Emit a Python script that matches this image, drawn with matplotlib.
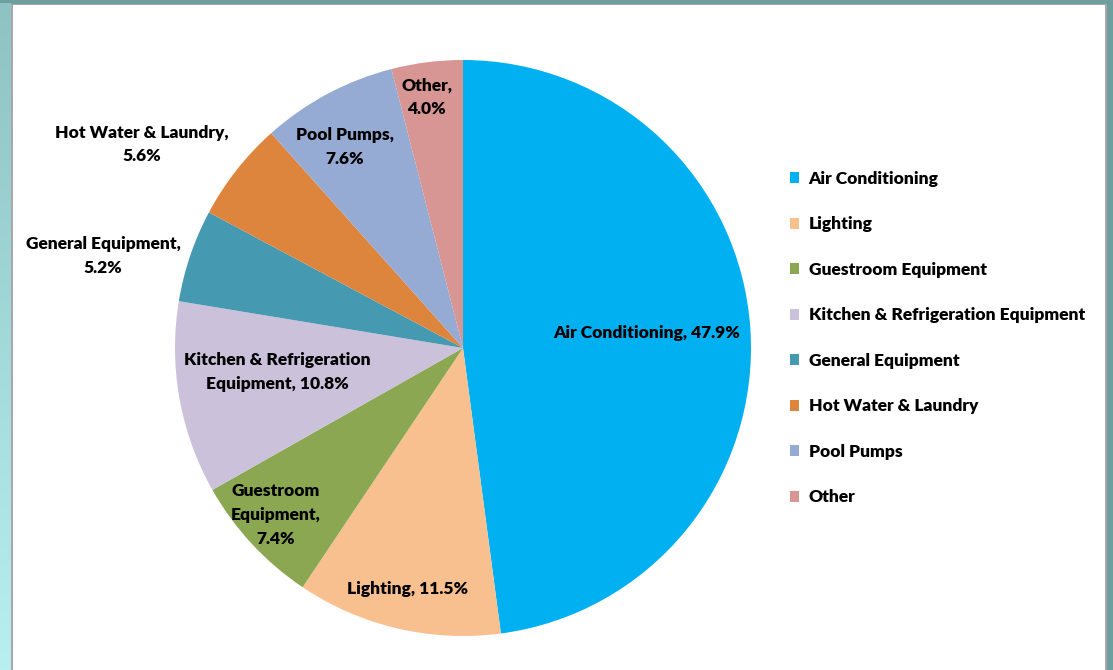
import numpy as np
import matplotlib
matplotlib.use("Agg")
import matplotlib.pyplot as plt
from matplotlib.patches import Rectangle, Patch
from matplotlib.colors import LinearSegmentedColormap

categories = ["Air Conditioning", "Lighting", "Guestroom Equipment",
              "Kitchen & Refrigeration Equipment", "General Equipment",
              "Hot Water & Laundry", "Pool Pumps", "Other"]
values = [47.9, 11.5, 7.4, 10.8, 5.2, 5.6, 7.6, 4.0]
label_texts = ["Air Conditioning, 47.9%", "Lighting, 11.5%",
               "Guestroom\nEquipment,\n7.4%",
               "Kitchen & Refrigeration\nEquipment, 10.8%",
               "General Equipment,\n5.2%", "Hot Water & Laundry,\n5.6%",
               "Pool Pumps,\n7.6%", "Other,\n4.0%"]
colors = ["#00B0F0", "#F9C08F", "#8BA751", "#CCC1DA", "#4599B0",
          "#DE853D", "#95ABD3", "#D79594"]

# label placement style: radial factor and angular nudge (deg)
label_r = [0.64, 0.86, 0.87, 0.65, 1.29, 1.32, 0.81, 0.88]
label_da = [0.9, 0.1, -1.1, -2.7, 4.4, 5.8, 2.3, 1.0]

W, H = 1113, 670
fig = plt.figure(figsize=(W / 100, H / 100), dpi=100)
fig.patch.set_facecolor("#6F9E9E")

# white panel
fig.add_artist(Rectangle((12 / W, 0), (W - 12 - 6) / W, (H - 4) / H,
                         transform=fig.transFigure, facecolor="white",
                         edgecolor="none", zorder=0))
# gray inner lines
fig.add_artist(Rectangle((11 / W, 0), 2 / W, (H - 4) / H, transform=fig.transFigure,
                         facecolor="#A8A8A8", edgecolor="none", zorder=1))
fig.add_artist(Rectangle((11 / W, (H - 5) / H), (W - 17) / W, 1.5 / H,
                         transform=fig.transFigure, facecolor="#A8A8A8",
                         edgecolor="none", zorder=1))
fig.add_artist(Rectangle(((W - 8) / W, 0), 2 / W, (H - 4) / H,
                         transform=fig.transFigure, facecolor="#A8A8A8",
                         edgecolor="none", zorder=1))

# left gradient strip
gax = fig.add_axes([0, 0, 11 / W, (H - 3) / H])
cmap = LinearSegmentedColormap.from_list("strip", ["#B9EFF1", "#8EC2C3"])
gax.imshow(np.linspace(0, 1, 256).reshape(-1, 1), aspect="auto", cmap=cmap,
           origin="lower")
gax.axis("off")

ax = fig.add_axes([0, 0, 1, 1])
ax.set_facecolor("none")
cx, cy, R = 463, H - 348, 288
wedges, _ = ax.pie(values, colors=colors, startangle=90, counterclock=False,
                   center=(cx, cy), radius=R, frame=True,
                   wedgeprops=dict(linewidth=0))
ax.set_xlim(0, W)
ax.set_ylim(0, H)
ax.set_aspect("auto")
ax.axis("off")

font = ["Lato", "DejaVu Sans"]
for w, txt, rf, da in zip(wedges, label_texts, label_r, label_da):
    ang = np.deg2rad((w.theta1 + w.theta2) / 2 + da)
    x = cx + rf * R * np.cos(ang)
    y = cy + rf * R * np.sin(ang)
    ax.text(x, y, txt, ha="center", va="center", fontsize=12.5,
            fontweight="heavy", family=font, linespacing=1.6, color="black")

handles = [Patch(facecolor=c, edgecolor="none") for c in colors]
leg = fig.legend(handles, categories, loc="upper left",
                 bbox_to_anchor=(774 / W, 1 - 155 / H), frameon=False,
                 handlelength=0.55, handleheight=0.6, handletextpad=0.55,
                 labelspacing=1.7,
                 prop=dict(family=font, weight="heavy", size=12.5))

fig.savefig("out.png", dpi=100)
